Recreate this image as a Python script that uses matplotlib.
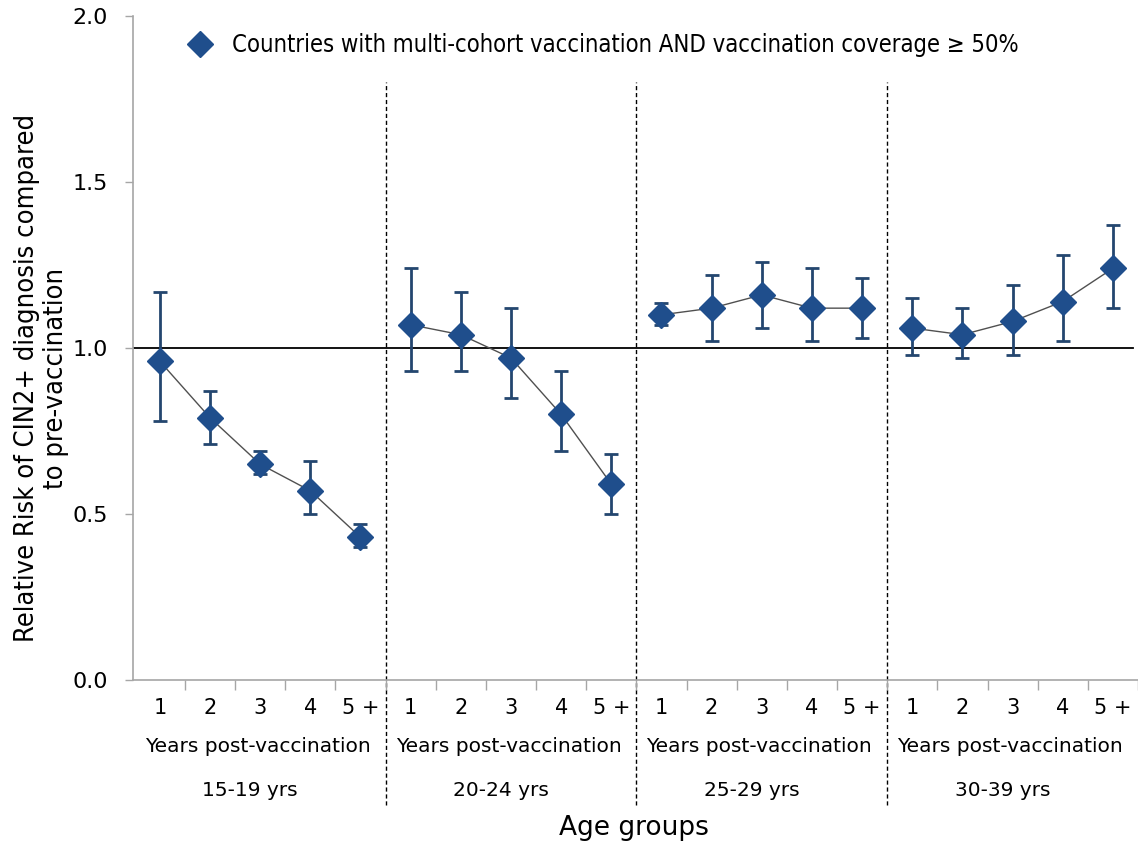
import numpy as np
import matplotlib
matplotlib.use("Agg")
import matplotlib.pyplot as plt
from matplotlib.lines import Line2D
from matplotlib.transforms import blended_transform_factory
from matplotlib import font_manager as fm

# ---- data ----
age_groups = ["15-19 yrs", "20-24 yrs", "25-29 yrs", "30-39 yrs"]
years_labels = ["1", "2", "3", "4", "5 +"]
sub_label = "Years post-vaccination"

rr_15_19 = [0.96, 0.79, 0.65, 0.57, 0.43]
lo_15_19 = [0.78, 0.71, 0.62, 0.50, 0.40]
hi_15_19 = [1.17, 0.87, 0.69, 0.66, 0.47]

rr_20_24 = [1.07, 1.04, 0.97, 0.80, 0.59]
lo_20_24 = [0.93, 0.93, 0.85, 0.69, 0.50]
hi_20_24 = [1.24, 1.17, 1.12, 0.93, 0.68]

rr_25_29 = [1.10, 1.12, 1.16, 1.12, 1.12]
lo_25_29 = [1.07, 1.02, 1.06, 1.02, 1.03]
hi_25_29 = [1.135, 1.22, 1.26, 1.24, 1.21]

rr_30_39 = [1.06, 1.04, 1.08, 1.14, 1.24]
lo_30_39 = [0.98, 0.97, 0.98, 1.02, 1.12]
hi_30_39 = [1.15, 1.12, 1.19, 1.28, 1.37]

rr_all = [rr_15_19, rr_20_24, rr_25_29, rr_30_39]
lo_all = [lo_15_19, lo_20_24, lo_25_29, lo_30_39]
hi_all = [hi_15_19, hi_20_24, hi_25_29, hi_30_39]

legend_label = "Countries with multi-cohort vaccination AND vaccination coverage \u2265 50%"
y_label = "Relative Risk of CIN2+ diagnosis compared\nto pre-vaccination"
x_label = "Age groups"
yticks = [0.0, 0.5, 1.0, 1.5, 2.0]

# ---- style ----
W, H = 1138, 844
marker_col = "#1F4E8C"
err_col = "#24466F"
axis_col = "#A6A6A6"

# pick a condensed face if available
cond_path = None
for f in fm.fontManager.ttflist:
    if f.name == "DejaVu Sans" and f.stretch == "condensed" and f.style == "normal" and f.weight in (400, "normal"):
        cond_path = f.fname
        break
if cond_path is not None:
    narrow_prop = lambda s: fm.FontProperties(fname=cond_path, size=s)
    leg_size, ylab_size = 17.1, 19.5
else:
    narrow_prop = lambda s: fm.FontProperties(family="Liberation Sans", size=s)
    leg_size, ylab_size = 17, 18

fig = plt.figure(figsize=(W / 100, H / 100), dpi=100)
ax = fig.add_axes([133 / W, 1 - 680 / H, 1 - 133 / W, (680 - 16) / H])

n = len(years_labels)
for g in range(len(age_groups)):
    xs = np.arange(n) + g * n
    rr = np.array(rr_all[g])
    lo = np.array(lo_all[g])
    hi = np.array(hi_all[g])
    ax.plot(xs, rr, color="#505050", lw=1.0, zorder=2)
    ax.errorbar(xs, rr, yerr=[rr - lo, hi - rr], fmt="none", ecolor=err_col,
                elinewidth=2.0, capsize=5, capthick=2.0, zorder=3)
    ax.plot(xs, rr, ls="none", marker="D", ms=13.5, color=marker_col,
            markeredgecolor=marker_col, zorder=4)

ax.axhline(1.0, xmin=0, xmax=0.995, color="black", lw=1.3, zorder=1)

for g in range(1, len(age_groups)):
    ax.plot([g * n - 0.5, g * n - 0.5], [-0.376, 1.80], color="black", lw=1.0,
            ls=(0, (3, 2)), clip_on=False, zorder=1)

ax.set_xlim(-0.535, 19.37)
ax.set_ylim(0, 2.0)
ax.set_yticks(yticks)
ax.set_yticklabels([f"{v:.1f}" for v in yticks], fontsize=16)
ax.tick_params(axis="y", length=6, color=axis_col, width=1, pad=12)

total = n * len(age_groups)
ax.set_xticks(np.arange(total))
ax.set_xticklabels(years_labels * len(age_groups), fontsize=15)
ax.set_xticks(np.arange(total) + 0.5, minor=True)
ax.tick_params(axis="x", which="major", length=0, pad=13)
ax.tick_params(axis="x", which="minor", length=7, color=axis_col, width=1)

for s in ["top", "right"]:
    ax.spines[s].set_visible(False)
for s in ["left", "bottom"]:
    ax.spines[s].set_color(axis_col)
    ax.spines[s].set_linewidth(1.2)

trans = blended_transform_factory(ax.transData, fig.transFigure)
for g, name in enumerate(age_groups):
    cx = g * n + (n - 1) / 2
    ax.text(cx - 0.05, 1 - 746 / H, sub_label, transform=trans, ha="center",
            va="center", fontsize=14.5)
    ax.text(cx - 0.2, 1 - 790 / H, name, transform=trans, ha="center",
            va="center", fontsize=14.5)

fig.text(634 / W, 1 - 828 / H, x_label, ha="center", va="center", fontsize=19)
fig.text(42 / W, 1 - 378 / H, y_label, ha="center", va="center", rotation=90,
         fontproperties=narrow_prop(ylab_size), linespacing=1.15,
         multialignment="center")

handle = Line2D([], [], ls="none", marker="D", ms=13.5, color=marker_col)
fig.legend([handle], [legend_label], loc="center left",
           bbox_to_anchor=(188 / W, 1 - 45 / H), frameon=False,
           borderaxespad=0, borderpad=0, handlelength=1.0,
           handletextpad=0.86, prop=narrow_prop(leg_size))

fig.savefig("out.png", dpi=100)
